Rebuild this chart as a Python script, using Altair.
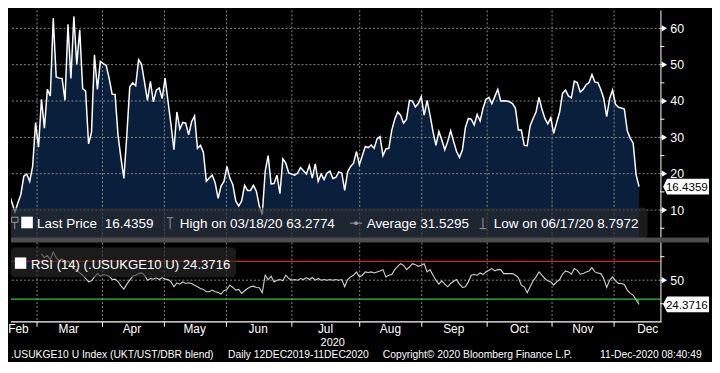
import altair as alt
import pandas as pd

FONT = "Liberation Sans"

# ---------------- data ----------------
# x = trading session number counted from Fri 14-Feb-2020 (= 0)
price_session = list(range(-1, 166)) + list(range(167, 216))
price_value = [
    11.4, 12.1, 14.5, 12.0, 9.5, 12.0, 14.3, 19.3, 19.9, 17.9, 22.0,
    34.1, 27.3, 40.5, 32.5, 43.2, 41.4, 62.8, 46.6, 46.3, 46.2,
    40.2, 61.1, 46.2, 63.28, 50.1, 59.6, 43.4, 42.7, 28.2, 31.4,
    52.7, 43.2, 50.9, 50.3, 49.8, 46.2, 41.9, 41.8, 30.7, 24.3,
    18.7, 30.7, 43.9, 45.0, 44.2, 51.4, 50.1, 45.2, 40.2, 45.4,
    39.8, 43.0, 43.6, 40.7, 46.3, 39.8, 33.5, 26.6, 37.0, 32.3,
    34.1, 33.9, 30.7, 34.3, 35.9, 27.0, 27.8, 25.9, 17.9, 18.8,
    19.6, 17.5, 13.2, 16.6, 17.9, 22.0, 18.8, 17.0, 12.5, 11.1,
    12.5, 16.8, 15.4, 15.4, 16.8, 15.2, 11.1, 8.7972, 20.7, 25.0,
    17.2, 17.3, 19.6, 14.5, 24.1, 22.9, 20.2, 19.9, 19.6, 20.2,
    21.7, 20.8, 19.9, 22.3, 18.8, 22.7, 17.9, 19.9, 18.4, 20.2,
    20.7, 18.7, 19.0, 20.5, 20.2, 15.4, 20.5, 22.0, 22.9, 26.1,
    22.5, 25.0, 27.5, 27.2, 27.9, 27.0, 29.6, 30.2, 25.0, 26.8,
    27.0, 32.0, 35.0, 37.0, 36.1, 33.9, 35.0, 40.2, 40.0, 38.4,
    39.3, 41.2, 36.1, 40.2, 36.1, 31.6, 27.8, 31.6, 29.3, 26.6,
    28.9, 31.8, 28.9, 26.1, 24.5, 26.6, 32.7, 35.2, 35.0, 33.4,
    36.3, 34.5, 38.0, 40.5, 41.0, 39.3,
    43.2, 40.0, 40.1, 40.0, 39.8, 39.3, 38.0, 32.0, 32.0, 27.8,
    27.7, 33.2, 35.2, 37.0, 41.0, 37.8, 35.2, 33.7, 35.4, 31.1,
    34.1, 36.9, 42.1, 43.0, 41.4, 40.9, 45.5, 45.1, 42.5, 43.2,
    44.5, 45.1, 47.3, 45.2, 45.1, 43.2, 40.7, 35.7, 40.7, 43.0,
    39.1, 38.3, 38.1, 37.8, 31.8, 29.8, 28.4, 19.7, 16.4359,
]

rsi_session = list(range(12, 216))
rsi_value = [
    78.1, 73.9, 76.3, 71.8, 79.8, 73.9, 70.4, 72.8, 67.5, 70.4,
    65.8, 62.3, 60.5, 57.7, 55.3, 51.8, 48.2, 49.3, 53.5, 57.0,
    54.2, 56.0, 55.3, 54.2, 50.7, 51.1, 48.6, 44.0, 40.5, 45.8,
    50.0, 54.2, 55.3, 57.0, 57.7, 55.3, 50.0, 51.8, 51.1, 52.5,
    50.7, 52.8, 51.1, 50.7, 48.2, 43.0, 47.2, 45.8, 48.2, 46.5,
    47.2, 46.5, 44.7, 43.0, 41.2, 40.2, 37.7, 37.7, 39.5, 37.7,
    37.0, 35.3, 38.8, 40.2, 44.7, 42.3, 39.5, 40.2, 36.0, 38.8,
    41.2, 43.0, 43.7, 42.3, 41.9, 36.7, 55.3, 50.7, 54.2, 48.2,
    50.0, 50.7, 49.3, 55.3, 51.8, 50.0, 50.7, 50.0, 51.8, 50.7,
    52.8, 50.7, 52.8, 50.0, 51.8, 50.0, 50.7, 50.0, 50.7, 50.0,
    50.7, 50.0, 50.7, 43.0, 50.7, 53.5, 55.3, 58.8, 53.5, 55.3,
    58.8, 58.1, 58.8, 57.7, 58.8, 59.8, 61.2, 53.5, 55.3, 56.0,
    61.2, 64.7, 67.5, 65.8, 61.2, 64.0, 67.5, 66.5, 64.7, 65.8,
    67.5, 58.8, 61.2, 55.3, 50.0, 45.8, 49.3, 45.8, 43.0, 46.5,
    48.9, 50.7, 45.8, 42.3, 43.0, 48.2, 55.3, 56.0, 55.3, 57.7,
    56.0, 58.8, 60.5, 62.3, 59.8, 61.2, 61.2, 57.0, 57.0, 57.0,
    57.0, 55.3, 52.8, 44.7, 43.0, 36.7, 43.0, 49.3, 53.5, 58.8,
    55.3, 51.8, 49.3, 48.2, 44.7, 48.2, 50.7, 56.3, 59.8, 58.8,
    56.3, 62.3, 60.5, 56.3, 57.0, 58.8, 59.8, 63.3, 58.8, 57.7,
    57.0, 51.8, 42.3, 50.0, 53.5, 49.3, 46.5, 46.5, 45.4, 39.5,
    36.0, 34.2, 28.9, 24.3716,
]

month_start = [10.5, 32.73, 53.75, 74.83, 97.06, 120.1, 141.18, 163.4, 185.44, 206.52]
month_labels = ["Feb", "Mar", "Apr", "May", "Jun", "Jul", "Aug", "Sep", "Oct", "Nov", "Dec"]
month_label_session = [4.17, 21.28, 42.73, 64.05, 85.61, 108.48, 130.54, 152.03, 174.32, 195.88, 217.94]
year_label = "2020"
year_label_session = 110.94

price_ticks = [5, 10, 15, 20, 25, 30, 35, 40, 45, 50, 55, 60]
price_levels = [10, 20, 30, 40, 50, 60]
rsi_ticks = [25, 50, 75]
rsi_mid, rsi_upper, rsi_lower = 50, 70, 30

last_price = 16.4359
last_rsi = 24.3716
legend_price = ["Last Price", "16.4359", "High on 03/18/20 63.2774",
                "Average 31.5295", "Low on 06/17/20 8.7972"]
legend_rsi = "RSI (14) (.USUKGE10 U) 24.3716"
footer = [".USUKGE10 U Index (UKT/UST/DBR blend)", "Daily 12DEC2019-11DEC2020",
          "Copyright\u00a9 2020 Bloomberg Finance L.P.", "11-Dec-2020 08:40:49"]

# ---------------- style ----------------
W, H1, H2 = 655, 229, 80
RIGHT = 704
NAVY = "#0a1f3b"
GRID = "#8a8a8a"
BAND = "#4d4d4d"
BOX = "#2c2c2c"
ICON = "#9a9a9a"
RED = "#d61e1e"
GREEN = "#2ec82e"
TAG = "M-1,0L-0.827,-0.346L1,-0.346L1,0.346L-0.827,0.346Z"
TAG_SIZE = 2144
TAG_X = W + 25.85

xs = alt.Scale(domain=[1.64, 222.26], nice=False, zero=False)
ys = alt.Scale(domain=[2.44, 64.91], nice=False, zero=False)
rs = alt.Scale(domain=[5.8, 90.0], nice=False, zero=False)
X = alt.X("s:Q", scale=xs, axis=None)

price = pd.DataFrame({"s": price_session, "v": price_value})
rsi = pd.DataFrame({"s": rsi_session, "v": rsi_value})
one = pd.DataFrame({"k": [0]})


def txt(t, x, y, size, color="white", align="left"):
    return alt.Chart(one).mark_text(
        text=t, font=FONT, fontSize=size, color=color, align=align, baseline="alphabetic"
    ).encode(x=alt.value(x), y=alt.value(y))


def sym(shape, x, y, size, color, filled=True, sw=1.0):
    return alt.Chart(one).mark_point(
        shape=shape, size=size, filled=filled, color=color, opacity=1, strokeWidth=sw
    ).encode(x=alt.value(x), y=alt.value(y))


def box(x1, x2, y1, y2):
    return alt.Chart(one).mark_rect(color=BOX, opacity=0.62, cornerRadius=4).encode(
        x=alt.value(x1), x2=alt.value(x2), y=alt.value(y1), y2=alt.value(y2))


def right_axis(scale, ticks, labelled, h):
    """Bloomberg style right axis drawn from marks: line, ticks, pointers, labels."""
    dom = alt.Chart(one).mark_rule(color="white", strokeWidth=1).encode(
        x=alt.value(W + 0.5), y=alt.value(0), y2=alt.value(h))
    tk = alt.Chart(pd.DataFrame({"v": ticks})).mark_rule(color="white", strokeWidth=1).encode(
        x=alt.value(W), x2=alt.value(W + 4), y=alt.Y("v:Q", scale=scale, axis=None))
    tri = alt.Chart(pd.DataFrame({"v": labelled})).mark_point(
        shape="triangle-right", filled=True, color="white", size=40, opacity=1).encode(
        x=alt.value(W + 4), y=alt.Y("v:Q", scale=scale, axis=None))
    lab = alt.Chart(pd.DataFrame({"v": labelled})).mark_text(
        font=FONT, fontSize=12.5, color="white", align="left", baseline="middle", dy=0.5).encode(
        x=alt.value(W + 10), y=alt.Y("v:Q", scale=scale, axis=None), text=alt.Text("v:Q", format="d"))
    return [dom, tk, tri, lab]


def value_tag(scale, value):
    d = pd.DataFrame({"v": [value]})
    tag = alt.Chart(d).mark_point(shape=TAG, size=TAG_SIZE, filled=True, color="white", opacity=1).encode(
        x=alt.value(TAG_X), y=alt.Y("v:Q", scale=scale, axis=None))
    t = alt.Chart(d).mark_text(font=FONT, fontSize=11.7, color="black", align="left",
                               baseline="middle", dy=0.5).encode(
        x=alt.value(W + 5.5), y=alt.Y("v:Q", scale=scale, axis=None), text=alt.Text("v:Q", format=".4f"))
    return [tag, t]


# ---------------- upper panel ----------------
area = alt.Chart(price).mark_area(color=NAVY, clip=True, opacity=1).encode(
    x=X, y=alt.Y("v:Q", scale=ys, axis=None), y2=alt.value(H1))
hgrid = alt.Chart(pd.DataFrame({"v": price_levels})).mark_rule(
    color=GRID, strokeDash=[2, 2], strokeWidth=1).encode(y=alt.Y("v:Q", scale=ys, axis=None))
vgrid_up = alt.Chart(pd.DataFrame({"s": month_start})).mark_rule(
    color=GRID, strokeDash=[2, 2], strokeWidth=1).encode(x=X)
pline = alt.Chart(price).mark_line(color="white", strokeWidth=1.5, clip=True).encode(
    x=X, y=alt.Y("v:Q", scale=ys, axis=None))
band = alt.Chart(one).mark_rule(color=BAND, strokeWidth=5).encode(
    x=alt.value(0), x2=alt.value(RIGHT), y=alt.value(H1 + 2.5))

ly = 219.7
upper = alt.layer(
    area, hgrid, vgrid_up, pline,
    box(0, 642, 199, H1 + 1),
    sym("M-0.55,-1L0.55,-1L0.55,-0.15L-0.55,-0.15ZM0,-0.15L0,1", 3.8, 214.5, 144, ICON, False),
    sym("square", 16.2, 213.8, 137, "white"),
    txt(legend_price[0], 26.3, ly, 13.6),
    txt(legend_price[1], 94.7, ly, 13.6),
    sym("M-0.6,-1L0.6,-1M0,-1L0,1", 160.5, 214.5, 121, ICON, False),
    txt(legend_price[2], 170.3, ly, 13.6),
    sym("M-1,0L1,0", 348, 214.5, 144, ICON, False),
    sym("circle", 348, 214.5, 14, ICON),
    txt(legend_price[3], 358.7, ly, 13.6),
    sym("M0,-1L0,1M-0.6,1L0.6,1", 476, 214.5, 121, ICON, False),
    txt(legend_price[4], 487, ly, 13.6),
    *right_axis(ys, price_ticks, price_levels, H1),
    *value_tag(ys, last_price),
    band,
).properties(width=W, height=H1)

# ---------------- lower panel ----------------
mid = alt.Chart(pd.DataFrame({"v": [rsi_mid]})).mark_rule(
    color=GRID, strokeDash=[2, 2], strokeWidth=1).encode(y=alt.Y("v:Q", scale=rs, axis=None))
upper_band = alt.Chart(pd.DataFrame({"v": [rsi_upper]})).mark_rule(color=RED, strokeWidth=1.2).encode(
    y=alt.Y("v:Q", scale=rs, axis=None))
lower_band = alt.Chart(pd.DataFrame({"v": [rsi_lower]})).mark_rule(color=GREEN, strokeWidth=1.2).encode(
    y=alt.Y("v:Q", scale=rs, axis=None))
vgrid_low = alt.Chart(pd.DataFrame({"s": month_start})).mark_rule(
    color=GRID, strokeDash=[2, 2], strokeWidth=1).encode(x=X)
xdomain = alt.Chart(one).mark_rule(color="white", strokeWidth=1.2).encode(
    x=alt.value(0), x2=alt.value(W + 1), y=alt.value(H2))
xticks = alt.Chart(pd.DataFrame({"s": month_start})).mark_rule(color="white", strokeWidth=1).encode(
    x=X, y=alt.value(H2), y2=alt.value(H2 + 5))
rline = alt.Chart(rsi).mark_line(color="#d4d4d4", strokeWidth=1.1, clip=True).encode(
    x=X, y=alt.Y("v:Q", scale=rs, axis=None))
oversold = alt.Chart(rsi[rsi["v"] < rsi_lower]).mark_area(color=GREEN, opacity=0.75, clip=True).encode(
    x=X, y=alt.Y("v:Q", scale=rs, axis=None), y2=alt.datum(rsi_lower))
months = alt.Chart(pd.DataFrame({"s": month_label_session, "m": month_labels})).mark_text(
    font=FONT, fontSize=12, color="white", align="center", baseline="alphabetic").encode(
    x=X, y=alt.value(91.6), text="m:N")
year = alt.Chart(pd.DataFrame({"s": [year_label_session], "m": [year_label]})).mark_text(
    font=FONT, fontSize=11, color="white", align="center", baseline="alphabetic").encode(
    x=X, y=alt.value(104.4), text="m:N")

fy = 116.1
lower = alt.layer(
    mid, upper_band, lower_band, vgrid_low, rline, oversold,
    box(0, 227, 5, 35),
    sym("square", 9.7, 20.8, 132, "white"),
    txt(legend_rsi, 20.3, 26.7, 13.25),
    *right_axis(rs, rsi_ticks, [rsi_mid], H2),
    *value_tag(rs, last_rsi),
    xdomain, xticks, months, year,
    txt(footer[0], 0, fy, 10.4),
    txt(footer[1], 219, fy, 10.4),
    txt(footer[2], 375, fy, 10.4),
    txt(footer[3], 594, fy, 10.4),
).properties(width=W, height=H2)

chart = alt.vconcat(upper, lower, spacing=5, bounds="flush").properties(
    background="black", padding=0).configure_view(strokeWidth=0)

chart.save("out.html", embed_options={"renderer": "svg", "actions": False})
